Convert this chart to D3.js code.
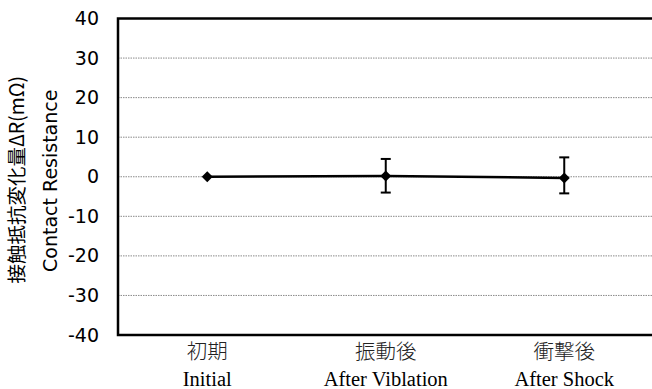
<!DOCTYPE html>
<html>
<head>
<meta charset="utf-8">
<script src="https://cdn.jsdelivr.net/npm/d3@7"></script>
<style>
html,body{margin:0;padding:0;background:#fff;}
svg{display:block;}
</style>
</head>
<body>
<svg id="chart" width="652" height="389"></svg>
<script>
const categoriesJa = ["初期", "振動後", "衝撃後"];
const categoriesEn = ["Initial", "After Viblation", "After Shock"];
const values = [0, 0.2, -0.3];
const errPlus = [null, 4.3, 5.2];
const errMinus = [null, 4.2, 3.9];
const yTicks = [-40, -30, -20, -10, 0, 10, 20, 30, 40];
const yTitleJa = "接触抵抗変化量ΔR(mΩ)";
const yTitleEn = "Contact Resistance";

(function () {
const svg = d3.select("#chart");
const pLeft = 118, pRight = 653.5, pTop = 18.5, pBottom = 335;

const x = d3.scaleBand().domain(categoriesEn).range([pLeft, pRight]);
const y = d3.scaleLinear().domain([-40, 40]).range([pBottom, pTop]);

// gridlines
svg.append("g").selectAll("line")
  .data(yTicks.filter(t => t > -40 && t < 40))
  .join("line")
  .attr("x1", pLeft).attr("x2", pRight)
  .attr("y1", d => y(d)).attr("y2", d => y(d))
  .attr("stroke", "#8a8a8a").attr("stroke-width", 1)
  .attr("stroke-dasharray", "1.5,1");

// y axis labels
const yAxis = d3.axisLeft(y).tickValues(yTicks).tickSize(0).tickPadding(19)
  .tickFormat(d => String(d));
const gy = svg.append("g").attr("transform", `translate(${pLeft},0)`).call(yAxis);
gy.select(".domain").remove();
gy.selectAll("text")
  .attr("font-family", "'DejaVu Sans', Verdana, sans-serif")
  .attr("font-size", 19).attr("fill", "#000");

// plot border
svg.append("rect")
  .attr("x", pLeft).attr("y", pTop)
  .attr("width", pRight - pLeft).attr("height", pBottom - pTop)
  .attr("fill", "none").attr("stroke", "#000").attr("stroke-width", 2.5);

// x labels
const cx = d => x(d) + x.bandwidth() / 2;
const xl = svg.append("g");
categoriesEn.forEach((c, i) => {
  xl.append("text").attr("x", cx(c)).attr("y", 359)
    .attr("text-anchor", "middle")
    .attr("font-family", "'Noto Sans CJK JP', sans-serif")
    .attr("font-weight", 300)
    .attr("font-size", 20.5).attr("fill", "#222").text(categoriesJa[i]);
  xl.append("text").attr("x", cx(c)).attr("y", 386)
    .attr("text-anchor", "middle")
    .attr("font-family", "'Liberation Serif', 'Times New Roman', serif")
    .attr("font-size", 20.5).attr("fill", "#000").text(c);
});

// line
const pts = categoriesEn.map((c, i) => ({c, v: values[i], p: errPlus[i], m: errMinus[i]}));
svg.append("path")
  .datum(pts)
  .attr("d", d3.line().x(d => cx(d.c)).y(d => y(d.v)))
  .attr("fill", "none").attr("stroke", "#000").attr("stroke-width", 2.5);

// error bars
const eb = svg.append("g").attr("stroke", "#000").attr("stroke-width", 2);
pts.filter(d => d.p != null).forEach(d => {
  const X = cx(d.c);
  eb.append("line").attr("x1", X).attr("x2", X)
    .attr("y1", y(d.v + d.p)).attr("y2", y(d.v - d.m));
  eb.append("line").attr("x1", X - 5).attr("x2", X + 5)
    .attr("y1", y(d.v + d.p)).attr("y2", y(d.v + d.p));
  eb.append("line").attr("x1", X - 5).attr("x2", X + 5)
    .attr("y1", y(d.v - d.m)).attr("y2", y(d.v - d.m));
});

// markers
svg.append("g").selectAll("path")
  .data(pts).join("path")
  .attr("transform", d => `translate(${cx(d.c)},${y(d.v)})`)
  .attr("d", "M0,-5.5L5.5,0L0,5.5L-5.5,0Z")
  .attr("fill", "#000");

// y titles
svg.append("text")
  .attr("transform", `translate(24,${(pTop + pBottom) / 2 + 3}) rotate(-90)`)
  .attr("text-anchor", "middle")
  .attr("font-family", "'Noto Sans CJK JP', sans-serif")
  .attr("font-size", 19.5).attr("fill", "#000")
  .text(yTitleJa);
svg.append("text")
  .attr("transform", `translate(57,${(pTop + pBottom) / 2 + 4}) rotate(-90)`)
  .attr("text-anchor", "middle")
  .attr("font-family", "'DejaVu Sans', Verdana, sans-serif")
  .attr("font-size", 19).attr("fill", "#000")
  .text(yTitleEn);
})();
</script>
</body>
</html>
